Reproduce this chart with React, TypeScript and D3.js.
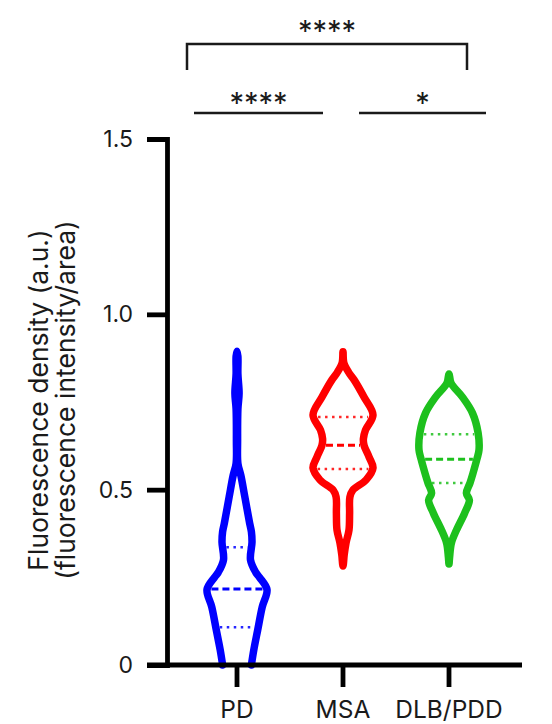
import React, { useRef, useEffect } from "react";
import * as d3 from "d3";

// groups and colours
const groups = ["PD", "MSA", "DLB/PDD"];
const colors = ["#0000ff", "#ff0000", "#1dc01d"];

// violin outlines: fluorescence value -> relative density (1 = widest)
const pdValues = [0, 0.043, 0.1, 0.165, 0.215, 0.25, 0.265, 0.3, 0.35, 0.38, 0.405, 0.48, 0.54, 0.575, 0.64, 0.73, 0.775, 0.83, 0.88, 0.895];
const pdDensity = [0.48, 0.56, 0.69, 0.84, 1.0, 0.75, 0.62, 0.45, 0.5, 0.48, 0.42, 0.26, 0.13, 0.03, 0.02, 0.03, 0.07, 0.03, 0.03, 0];

const msaValues = [0.282, 0.314, 0.348, 0.385, 0.433, 0.479, 0.499, 0.528, 0.562, 0.593, 0.627, 0.645, 0.67, 0.713, 0.764, 0.813, 0.833, 0.861, 0.893];
const msaDensity = [0, 0.04, 0.1, 0.2, 0.22, 0.23, 0.33, 0.77, 1.0, 0.87, 0.7, 0.68, 0.75, 1.0, 0.7, 0.37, 0.2, 0.03, 0];

const dlbValues = [0.288, 0.308, 0.348, 0.385, 0.433, 0.47, 0.49, 0.519, 0.547, 0.587, 0.613, 0.662, 0.719, 0.764, 0.804, 0.83];
const dlbDensity = [0, 0.02, 0.08, 0.25, 0.52, 0.68, 0.58, 0.7, 0.8, 0.93, 1.0, 0.97, 0.78, 0.45, 0.07, 0];

// [Q1, median, Q3]
const pdQuartiles = [0.108, 0.217, 0.336];
const msaQuartiles = [0.559, 0.627, 0.707];
const dlbQuartiles = [0.519, 0.587, 0.658];

const yTicks = [0, 0.5, 1.0, 1.5];
const yTickLabels = ["0", "0.5", "1.0", "1.5"];

const comparisons = [
  { from: "PD", to: "DLB/PDD", label: "****" },
  { from: "PD", to: "MSA", label: "****" },
  { from: "MSA", to: "DLB/PDD", label: "*" },
];

const ViolinChart = () => {
  const svgRef = useRef<SVGSVGElement>(null);

  useEffect(() => {
    if (!svgRef.current) return;
    document.body.style.margin = "0";

    const svg = d3.select(svgRef.current);
    svg.selectAll("*").remove();

    const width = 552;
    const height = 724;
    const font = "Inter, 'Noto Sans', sans-serif";
    const ink = "#1a1a1a";

    const y = d3.scaleLinear([0, 1.5], [665, 139]);
    const x = d3.scalePoint(groups, [237, 449]);
    const w = d3.scaleLinear([0, 1], [0, 30]);

    svg
      .attr("width", width)
      .attr("height", height)
      .style("display", "block")
      .style("font-family", font);

    const violins = [
      { values: pdValues, density: pdDensity, q: pdQuartiles, open: true },
      { values: msaValues, density: msaDensity, q: msaQuartiles, open: false },
      { values: dlbValues, density: dlbDensity, q: dlbQuartiles, open: false },
    ];

    violins.forEach((v, gi) => {
      const cx = x(groups[gi]) as number;
      const color = colors[gi];
      const left = v.values.map((val, i) => [cx - w(v.density[i]), y(val)] as [number, number]);
      const right = v.values
        .map((val, i) => [cx + w(v.density[i]), y(val)] as [number, number])
        .reverse();

      // PD is cut at zero, so its outline stays open at the bottom
      let d: string | null;
      if (v.open) {
        d = d3.line().curve(d3.curveCatmullRom.alpha(0.5))(left.concat(right.slice(1)));
      } else {
        d = d3.line().curve(d3.curveCatmullRomClosed.alpha(0.5))(left.concat(right.slice(1, -1)));
      }

      const g = svg.append("g");
      g.append("path")
        .attr("d", d)
        .attr("fill", "none")
        .attr("stroke", color)
        .attr("stroke-width", 7.5)
        .attr("stroke-linejoin", "round")
        .attr("stroke-linecap", "round");

      const widthAt = d3.scaleLinear(v.values, v.density);
      v.q.forEach((qv, qi) => {
        const hw = w(widthAt(qv)) - 4;
        const isMedian = qi === 1;
        g.append("line")
          .attr("x1", cx - hw)
          .attr("x2", cx + hw)
          .attr("y1", y(qv))
          .attr("y2", y(qv))
          .attr("stroke", color)
          .attr("stroke-width", isMedian ? 3 : 2.5)
          .attr("stroke-opacity", isMedian ? 1 : 0.85)
          .attr("stroke-dasharray", isMedian ? "7 4" : "2.5 4.5");
      });
    });

    // y axis
    svg
      .append("g")
      .attr("transform", "translate(167,0)")
      .call(
        d3
          .axisLeft(y)
          .tickValues(yTicks)
          .tickFormat((_, i) => yTickLabels[i])
          .tickSize(20)
          .tickPadding(14)
      )
      .call((g) => g.selectAll("path, line").attr("stroke", "#000").attr("stroke-width", 4.8))
      .call((g) =>
        g.selectAll("text").attr("fill", ink).style("font-size", "23px").style("font-family", font)
      );

    // x axis
    const xg = svg.append("g");
    xg.append("line")
      .attr("x1", 147)
      .attr("x2", 522)
      .attr("y1", y(0))
      .attr("y2", y(0))
      .attr("stroke", "#000")
      .attr("stroke-width", 4.8);
    groups.forEach((grp) => {
      xg.append("line")
        .attr("x1", x(grp) as number)
        .attr("x2", x(grp) as number)
        .attr("y1", y(0))
        .attr("y2", y(0) + 22)
        .attr("stroke", "#000")
        .attr("stroke-width", 4.8);
      xg.append("text")
        .attr("x", x(grp) as number)
        .attr("y", 718)
        .attr("text-anchor", "middle")
        .attr("fill", ink)
        .style("font-size", "24.5px")
        .text(grp);
    });

    // axis title
    const titleLines = ["Fluorescence density (a.u.)", "(fluorescence intensity/area)"];
    titleLines.forEach((t, i) => {
      svg
        .append("text")
        .attr("transform", `translate(${48 + i * 27},400) rotate(-90)`)
        .attr("text-anchor", "middle")
        .attr("fill", ink)
        .style("font-size", "26.5px")
        .text(t);
    });

    // significance brackets
    const sig = svg.append("g").attr("stroke", ink).attr("stroke-width", 2.5).attr("fill", "none");
    const top = comparisons[0];
    const tx1 = (x(top.from) as number) - 50;
    const tx2 = (x(top.to) as number) + 18;
    sig.append("path").attr("d", `M${tx1},70V44H${tx2}V70`);
    svg
      .append("text")
      .attr("x", (tx1 + tx2) / 2)
      .attr("y", 41)
      .attr("text-anchor", "middle")
      .attr("fill", ink)
      .style("font-size", "29px")
      .text(top.label);

    const lowOffsets = [
      [-43, -20],
      [16, 37],
    ];
    comparisons.slice(1).forEach((c, i) => {
      const x1 = (x(c.from) as number) + lowOffsets[i][0];
      const x2 = (x(c.to) as number) + lowOffsets[i][1];
      sig.append("path").attr("d", `M${x1},113H${x2}`);
      svg
        .append("text")
        .attr("x", (x1 + x2) / 2)
        .attr("y", 113)
        .attr("text-anchor", "middle")
        .attr("fill", ink)
        .style("font-size", "29px")
        .text(c.label);
    });
  }, []);

  return <svg ref={svgRef}></svg>;
};

export default function App() {
  return <ViolinChart />;
}
